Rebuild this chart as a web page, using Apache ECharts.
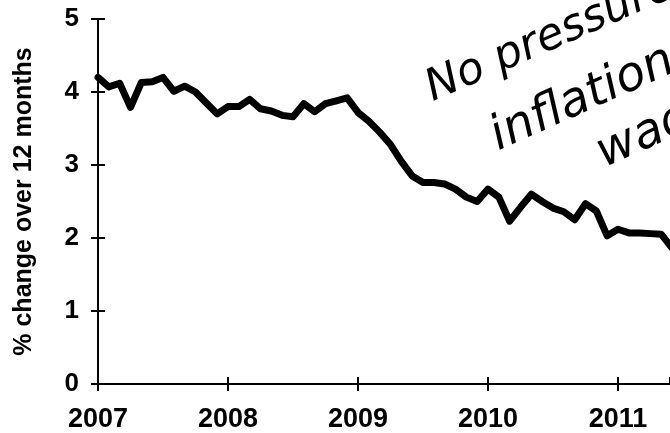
<!DOCTYPE html>
<html>
<head>
<meta charset="utf-8">
<script src="https://cdn.jsdelivr.net/npm/echarts@6/dist/echarts.min.js"></script>
<style>
html,body{margin:0;padding:0;background:#fff;}
#chart{width:670px;height:433px;}
</style>
</head>
<body>
<div id="chart"></div>
<script>
// Monthly % change over 12 months, starting January 2007
var startYear = 2007;
var values2007 = [4.20, 4.07, 4.12, 3.79, 4.13, 4.14, 4.20, 4.01, 4.08, 4.00, 3.85, 3.70];
var values2008 = [3.80, 3.80, 3.90, 3.77, 3.74, 3.68, 3.66, 3.84, 3.73, 3.84, 3.88, 3.92];
var values2009 = [3.72, 3.60, 3.45, 3.28, 3.05, 2.85, 2.76, 2.76, 2.74, 2.67, 2.56, 2.50];
var values2010 = [2.67, 2.56, 2.23, 2.42, 2.60, 2.50, 2.41, 2.36, 2.25, 2.47, 2.37, 2.03];
var values2011 = [2.12, 2.07, 2.07, 2.06, 2.05, 1.86];
var yTicks = [0, 1, 2, 3, 4, 5];
var xTicks = [2007, 2008, 2009, 2010, 2011];
var yAxisTitle = '% change over 12 months';
var noteLines = ['No pressure', 'inflation', 'wages'];

var allValues = [].concat(values2007, values2008, values2009, values2010, values2011);
var seriesData = allValues.map(function (v, i) { return [startYear + i / 12, v]; });

var chart = echarts.init(document.getElementById('chart'));
var axisFont = 'Liberation Sans, Arial, sans-serif';
var noteFont1 = 'italic 44px "DejaVu Sans", sans-serif';
var noteFont2 = 'italic 48px "DejaVu Sans", sans-serif';

var xBase = {
  type: 'value',
  min: xTicks[0],
  max: 2011.4,
  interval: 1,
  position: 'bottom',
  splitLine: { show: false }
};
var yBase = {
  type: 'value',
  min: yTicks[0],
  max: yTicks[yTicks.length - 1],
  interval: 1,
  position: 'left',
  splitLine: { show: false }
};

chart.setOption({
  animation: false,
  backgroundColor: '#fff',
  grid: { left: 98, right: 0, top: 19, bottom: 49, containLabel: false },
  xAxis: [
    Object.assign({}, xBase, {
      axisLine: { show: true, lineStyle: { color: '#000', width: 2 } },
      axisTick: { show: true, inside: false, length: 7, lineStyle: { color: '#000', width: 2 } },
      axisLabel: {
        color: '#000', fontFamily: axisFont, fontWeight: 'bold', fontSize: 27, margin: 22,
        showMaxLabel: false,
        formatter: function (v) { return xTicks.indexOf(v) >= 0 ? String(v) : ''; }
      }
    }),
    Object.assign({}, xBase, {
      axisLine: { show: false },
      axisTick: { show: true, inside: true, length: 7, lineStyle: { color: '#000', width: 2 } },
      axisLabel: { show: false }
    })
  ],
  yAxis: [
    Object.assign({}, yBase, {
      name: yAxisTitle,
      nameLocation: 'middle',
      nameGap: 61,
      nameTextStyle: { color: '#000', fontFamily: axisFont, fontWeight: 'bold', fontSize: 25 },
      axisLine: { show: true, lineStyle: { color: '#000', width: 2 } },
      axisTick: { show: true, inside: false, length: 7, lineStyle: { color: '#000', width: 2 } },
      axisLabel: {
        color: '#000', fontFamily: axisFont, fontWeight: 'bold', fontSize: 26, margin: 19,
        formatter: function (v) { return yTicks.indexOf(v) >= 0 ? String(v) : ''; }
      }
    }),
    Object.assign({}, yBase, {
      axisLine: { show: false },
      axisTick: { show: true, inside: true, length: 7, lineStyle: { color: '#000', width: 2 } },
      axisLabel: { show: false }
    })
  ],
  series: [{
    type: 'line',
    xAxisIndex: 0,
    yAxisIndex: 0,
    data: seriesData,
    showSymbol: false,
    symbol: 'none',
    clip: true,
    lineStyle: { color: '#000', width: 7, join: 'round', cap: 'round' }
  }],
  graphic: [
    { type: 'text', x: 437, y: 111, rotation: 0.41, style: { text: noteLines[0], font: noteFont1, fill: '#000', align: 'left', verticalAlign: 'bottom' } },
    { type: 'text', x: 503, y: 161, rotation: 0.42, style: { text: noteLines[1], font: noteFont2, fill: '#000', align: 'left', verticalAlign: 'bottom' } },
    { type: 'text', x: 609, y: 178, rotation: 0.42, style: { text: noteLines[2], font: noteFont2, fill: '#000', align: 'left', verticalAlign: 'bottom' } }
  ]
});
</script>
</body>
</html>
